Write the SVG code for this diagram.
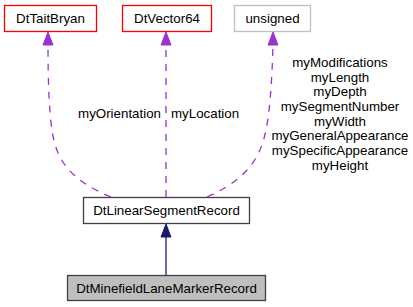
<svg xmlns="http://www.w3.org/2000/svg" width="413" height="307" viewBox="0 0 413 307">
<style>
text{font-family:"Liberation Sans",Arial,sans-serif;font-size:13.33px;fill:#000}
.n{fill:#fff;stroke-width:1.3}
.red{stroke:#ff0000}
.gray{stroke:#bfbfbf}
.blk{stroke:#404040}
.dash{fill:none;stroke:#9a32cd;stroke-width:1.3;stroke-dasharray:7,7}
.ph{fill:#9a32cd;stroke:#9a32cd}
</style>
<rect width="413" height="307" fill="#fff"/>
<g id="DtTaitBryan"><rect class="n red" x="4.5" y="5.5" width="92" height="26"/><text x="50.5" y="23" text-anchor="middle">DtTaitBryan</text></g>
<g id="DtVector64"><rect class="n red" x="122.5" y="5.5" width="89" height="26"/><text x="167" y="23" text-anchor="middle">DtVector64</text></g>
<g id="unsigned"><rect class="n gray" x="234.5" y="5.5" width="76" height="26"/><text x="272.5" y="23" text-anchor="middle">unsigned</text></g>
<g id="DtLinearSegmentRecord"><rect class="n blk" x="83.5" y="197.5" width="166" height="26"/><text x="166.5" y="215" text-anchor="middle">DtLinearSegmentRecord</text></g>
<g id="DtMinefieldLaneMarkerRecord"><rect x="67.5" y="275.5" width="198" height="25" fill="#bfbfbf" stroke="#404040" stroke-width="1.3"/><text x="166.5" y="292.5" text-anchor="middle">DtMinefieldLaneMarkerRecord</text></g>
<g id="connectors">
<path class="dash" d="M111,197 C70,180 56,160 52,130 C49,110 48,80 48,45"/>
<polygon class="ph" points="48,32 43,45 53,45"/>
<path class="dash" d="M166,197 L166,45"/>
<polygon class="ph" points="166,32 161,45 171,45"/>
<path class="dash" d="M207,197 C245,180 260,160 266,130 C270,110 272,80 273,45"/>
<polygon class="ph" points="273,32 268,45 278,45"/>
<path d="M166,275 L166,237" fill="none" stroke="#191970" stroke-width="1.3"/>
<polygon points="166,224 161,237 171,237" fill="#191970" stroke="#191970"/>
<text x="161" y="118" text-anchor="end">myOrientation</text>
<text x="171" y="118">myLocation</text>
<text text-anchor="middle"><tspan x="340" y="67">myModifications</tspan><tspan x="340" y="81.5">myLength</tspan><tspan x="340" y="96">myDepth</tspan><tspan x="340" y="111">mySegmentNumber</tspan><tspan x="340" y="125.5">myWidth</tspan><tspan x="340" y="140">myGeneralAppearance</tspan><tspan x="340" y="155">mySpecificAppearance</tspan><tspan x="340" y="169.5">myHeight</tspan></text>
</g>
</svg>
